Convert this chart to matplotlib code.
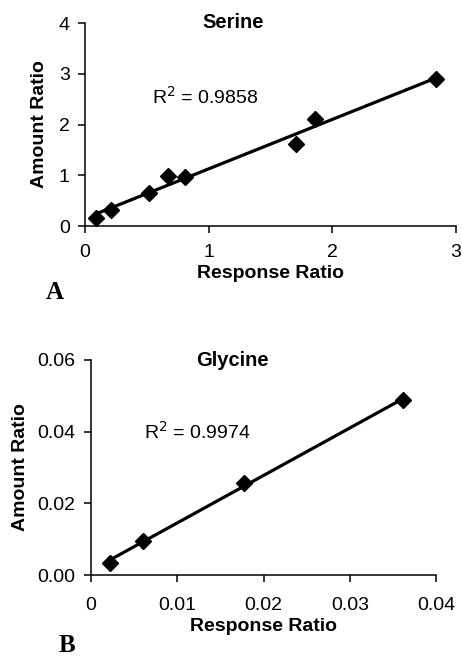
import numpy as np
import matplotlib
matplotlib.use("Agg")
import matplotlib.pyplot as plt

plt.rcParams['font.family'] = ['Liberation Sans', 'DejaVu Sans']

# Serine calibration data
serine_response = [0.09, 0.21, 0.52, 0.67, 0.81, 1.71, 1.86, 2.84]
serine_amount = [0.15, 0.32, 0.65, 0.98, 0.97, 1.62, 2.11, 2.90]
serine_r2 = "0.9858"
serine_xticks = [0, 1, 2, 3]
serine_yticks = [0, 1, 2, 3, 4]

# Glycine calibration data
glycine_response = [0.0022, 0.0060, 0.0177, 0.0362]
glycine_amount = [0.0033, 0.0096, 0.0258, 0.0487]
glycine_r2 = "0.9974"
glycine_xticks = [0, 0.01, 0.02, 0.03, 0.04]
glycine_xlabels = ["0", "0.01", "0.02", "0.03", "0.04"]
glycine_yticks = [0, 0.02, 0.04, 0.06]
glycine_ylabels = ["0.00", "0.02", "0.04", "0.06"]

W, H = 462, 659
fig = plt.figure(figsize=(W / 100, H / 100), dpi=100)

TICK_FS = 14
LABEL_FS = 14
TITLE_FS = 14.5
SERIF = ["Liberation Serif", "DejaVu Serif"]


def px_axes(left, top, right, bottom):
    return fig.add_axes([left / W, 1 - bottom / H, (right - left) / W, (bottom - top) / H])


def style(ax):
    for s in ("top", "right"):
        ax.spines[s].set_visible(False)
    for s in ("left", "bottom"):
        ax.spines[s].set_linewidth(1.1)
    ax.tick_params(direction="out", length=5, width=1.1, labelsize=TICK_FS, pad=6)


def draw(ax, x, y):
    x = np.asarray(x)
    y = np.asarray(y)
    m, b = np.polyfit(x, y, 1)
    xs = np.array([x.min(), x.max()])
    ax.plot(xs, m * xs + b, color="black", lw=2.3, zorder=2, clip_on=False)
    ax.plot(x, y, linestyle="none", marker="D", markersize=8, color="black", zorder=3, clip_on=False)


# Panel A: Serine
ax1 = px_axes(85, 23, 456, 226)
style(ax1)
draw(ax1, serine_response, serine_amount)
ax1.set_xlim(0, 3)
ax1.set_ylim(0, 4)
ax1.set_xticks(serine_xticks)
ax1.set_yticks(serine_yticks)
ax1.tick_params(axis="x", pad=8)
ax1.set_xlabel("Response Ratio", fontsize=LABEL_FS, fontweight="bold", labelpad=3)
ax1.set_ylabel("Amount Ratio", fontsize=LABEL_FS, fontweight="bold", labelpad=8)
ax1.text(1.2, 4.0, "Serine", fontsize=TITLE_FS, fontweight="bold", ha="center", va="center")
ax1.text(0.97, 2.54, "R$^2$ = " + serine_r2, fontsize=14, ha="center", va="center")
fig.text(55 / W, 1 - 299 / H, "A", fontsize=18, fontweight="bold",
         family=SERIF, ha="center", va="baseline")

# Panel B: Glycine
ax2 = px_axes(91, 360, 436, 575)
style(ax2)
draw(ax2, glycine_response, glycine_amount)
ax2.set_xlim(0, 0.04)
ax2.set_ylim(0, 0.06)
ax2.set_xticks(glycine_xticks)
ax2.set_xticklabels(glycine_xlabels)
ax2.set_yticks(glycine_yticks)
ax2.set_yticklabels(glycine_ylabels)
ax2.tick_params(axis="x", pad=11)
ax2.set_xlabel("Response Ratio", fontsize=LABEL_FS, fontweight="bold", labelpad=3)
ax2.set_ylabel("Amount Ratio", fontsize=LABEL_FS, fontweight="bold", labelpad=6)
ax2.text(0.0164, 0.06, "Glycine", fontsize=TITLE_FS, fontweight="bold", ha="center", va="center")
ax2.text(0.0124, 0.040, "R$^2$ = " + glycine_r2, fontsize=14, ha="center", va="center")
fig.text(67 / W, 1 - 652 / H, "B", fontsize=18, fontweight="bold",
         family=SERIF, ha="center", va="baseline")

fig.savefig("out.png", dpi=100, facecolor="white")
